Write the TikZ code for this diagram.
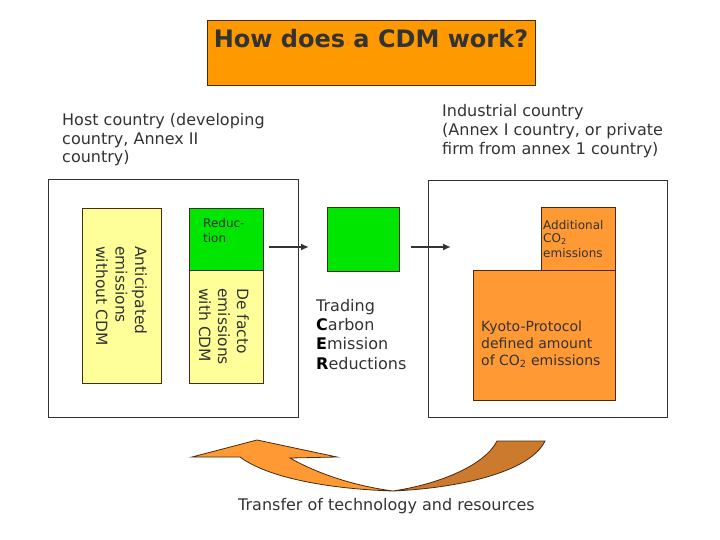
\documentclass[tikz,border=0pt]{standalone}
\usepackage{fontspec}
\setmainfont{DejaVu Sans}
\usetikzlibrary{arrows.meta}
\definecolor{titleorange}{HTML}{FF9900}
\definecolor{boxorange}{HTML}{FF9933}
\definecolor{tailorange}{HTML}{CC7A2E}
\definecolor{paleyellow}{HTML}{FFFF99}
\definecolor{cdmgreen}{HTML}{00E600}
\definecolor{edgebrown}{HTML}{4A2A10}
\definecolor{framegray}{HTML}{333333}
\definecolor{txtgray}{HTML}{333333}

\begin{document}
\begin{tikzpicture}[x=1pt,y=-1pt,line join=miter,
  frame/.style={draw=framegray,line width=1.2pt,inner sep=0pt,anchor=north west},
  block/.style={draw=edgebrown,line width=0.9pt,inner sep=0pt,anchor=north west},
  lbl/.style={text=txtgray,inner sep=0pt,anchor=base west,align=left},
  flow/.style={line width=1.6pt,draw=framegray,-{Latex[length=8pt,width=7pt]}}]
\useasboundingbox (0,0) rectangle (720,540);

\node[block,fill=titleorange,line width=1.2pt,minimum width=328pt,minimum height=65pt] (title) at (207,20) {};
\node[text=txtgray,inner sep=0pt,anchor=base,font=\bfseries\fontsize{24}{28}\selectfont] (head) at (371,48) {How does a CDM work?};

\node[lbl,font=\fontsize{16}{18.5}\selectfont] (host) at (62,163) {Host country (developing\\country, Annex II\\country)};
\node[lbl,font=\fontsize{16}{19}\selectfont] (industry) at (442,155) {Industrial country\\(Annex I country, or private\\firm from annex 1 country)};

\node[frame,minimum width=250pt,minimum height=238pt] (hostbox) at (48,179) {};
\node[frame,minimum width=239pt,minimum height=237pt] (industrybox) at (428,180) {};

\node[block,fill=paleyellow,minimum width=79pt,minimum height=175pt] (antic) at (82,208) {};
\node[block,fill=paleyellow,minimum width=74pt,minimum height=113pt] (defacto) at (189,270) {};
\node[block,fill=cdmgreen,minimum width=74pt,minimum height=62pt] (reduc) at (189,208) {};
\node[block,fill=cdmgreen,minimum width=72pt,minimum height=64pt] (trade) at (327,207) {};
\node[block,fill=boxorange,minimum width=142pt,minimum height=130pt] (kyoto) at (473,270) {};
\node[block,fill=boxorange,minimum width=74pt,minimum height=63pt] (extra) at (541,207) {};

\node[lbl,rotate=-90,font=\fontsize{15.5}{19.5}\selectfont] (antictext) at (96,246) {Anticipated\\emissions\\without CDM};
\node[lbl,rotate=-90,font=\fontsize{15.5}{19}\selectfont] (defactotext) at (199,288) {De facto\\emissions\\with CDM};
\node[lbl,font=\fontsize{12}{16}\selectfont] (reductext) at (203,243) {Reduc-\\tion};
\node[lbl,font=\fontsize{16}{19.2}\selectfont] (tradetext) at (316,369) {Trading\\\textcolor{black}{\bfseries C}arbon\\\textcolor{black}{\bfseries E}mission\\\textcolor{black}{\bfseries R}eductions};
\node[lbl,font=\fontsize{12}{14}\selectfont] (extratext) at (543,257) {Additional\\CO\textsubscript{2}\\emissions};
\node[lbl,font=\fontsize{14}{16.7}\selectfont] (kyototext) at (481,365) {Kyoto-Protocol\\defined amount\\of CO\textsubscript{2} emissions};

\coordinate (a1) at (269,247);
\coordinate (a2) at (309,247);
\coordinate (b1) at (411,247);
\coordinate (b2) at (451,247);
\draw[flow] (a1) -- (a2);
\draw[flow] (b1) -- (b2);

\filldraw[fill=boxorange,draw=edgebrown,line width=0.8pt] (192,457) -- (257,440) -- (337,457) -- (290,458)
  .. controls (318,474) and (355,486) .. (393,491)
  .. controls (330,489) and (268,478) .. (240,457) -- cycle;
\filldraw[fill=tailorange,draw=edgebrown,line width=0.8pt] (393,491)
  .. controls (460,488) and (530,472) .. (545,441) -- (497,441)
  .. controls (485,465) and (440,484) .. (393,491) -- cycle;
\node[lbl,font=\fontsize{16}{19}\selectfont] (transfer) at (238,510) {Transfer of technology and resources};
\end{tikzpicture}
\end{document}
